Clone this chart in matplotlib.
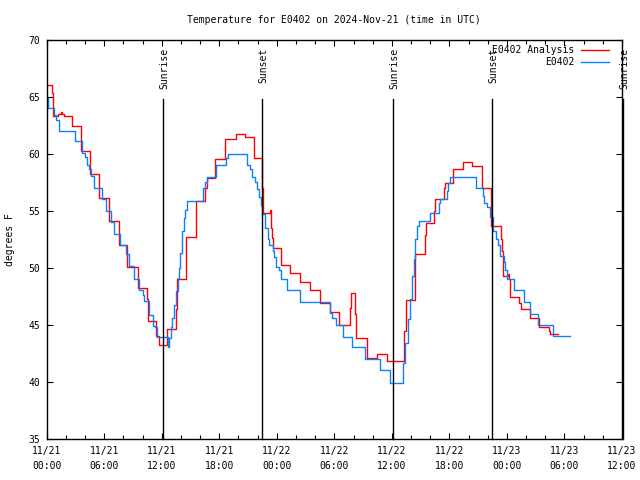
import matplotlib
matplotlib.use('Agg')
import matplotlib.pyplot as plt
from matplotlib.ticker import MultipleLocator
from matplotlib.transforms import blended_transform_factory
from matplotlib.lines import Line2D

# ---- data (hours since 2024-11-21 00:00 UTC, degrees F) ----
red_t = [0.0, 0.55, 0.62, 1.18, 1.45, 1.6, 1.76, 2.6, 3.55, 4.5, 5.5, 6.5, 7.5, 8.4, 9.5,
         10.45, 10.55, 11.35, 11.7, 12.55, 13.5, 13.6, 14.55, 15.6, 16.5, 16.7, 17.6, 18.6,
         19.7, 20.65, 21.6, 22.5, 22.6, 23.25, 23.4, 23.5, 23.65, 24.45, 25.35, 26.45, 27.5,
         28.45, 29.5, 30.45, 31.6, 31.75, 32.2, 32.3, 33.45, 34.45, 35.45, 37.3, 37.5, 38.4,
         39.45, 39.6, 40.35, 40.45, 41.45, 41.55, 42.4, 43.45, 44.35, 45.35, 46.35, 47.35,
         47.45, 47.55, 48.1, 48.2, 48.3, 49.3, 49.45, 50.4, 51.35, 52.4, 52.5, 53.3]
red_v = [66.0, 65.3, 63.35, 63.5, 63.67, 63.5, 63.35, 62.47, 60.2, 58.25, 56.15, 54.1, 52.0, 50.1, 48.27,
         47.3, 45.35, 44.04, 43.3, 44.7, 46.4, 49.0, 52.7, 55.9, 57.0, 57.84, 59.56, 61.25,
         61.74, 61.5, 59.65, 57.0, 54.83, 55.1, 53.5, 52.6, 51.77, 50.3, 49.6, 48.8, 48.04,
         46.9, 46.14, 45.06, 46.5, 47.83, 46.0, 43.84, 42.15, 42.5, 41.91, 44.5, 47.2, 51.2,
         52.9, 53.96, 54.98, 56.0, 57.0, 57.46, 58.68, 59.26, 58.9, 57.0, 53.67, 52.5,
         51.48, 49.3, 49.45, 49.0, 47.48, 46.96, 46.46, 45.64, 44.86, 44.5, 44.27, 44.27]

blue_t = [0.0, 0.1, 0.15, 0.75, 0.95, 1.3, 2.95, 3.65, 4.0, 4.15, 4.45, 4.6, 4.95, 5.75, 6.15,
          6.7, 7.05, 7.6, 8.3, 8.6, 9.1, 9.6, 10.0, 10.15, 10.7, 11.05, 11.3, 11.5, 12.6, 12.8,
          12.95, 13.05, 13.3, 13.45, 13.65, 13.8, 13.95, 14.1, 14.3, 14.45, 14.6, 16.25, 16.5,
          16.7, 17.7, 18.7, 18.95, 20.9, 21.15, 21.4, 21.7, 21.9, 22.1, 22.35, 22.5, 22.75,
          23.05, 23.2, 23.56, 23.74, 23.9, 24.25, 24.43, 25.1, 26.4, 29.55, 29.8, 30.15, 30.86,
          31.87, 33.15, 34.8, 35.85, 37.16, 37.4, 37.65, 37.86, 38.1, 38.27, 38.45, 38.6, 38.8,
          40.0, 40.87, 41.04, 41.73, 41.9, 42.08, 44.78, 45.47, 45.6, 45.9, 46.2, 46.58, 46.9,
          47.03, 47.23, 47.65, 47.8, 48.0, 48.7, 49.73, 50.42, 51.28, 52.77, 54.57]
blue_v = [64.9, 64.5, 64.0, 63.4, 63.0, 62.0, 61.1, 60.1, 59.7, 59.06, 58.7, 58.04, 57.0, 56.0, 54.98,
          54.0, 53.0, 52.0, 51.2, 50.2, 49.0, 48.1, 47.6, 47.1, 45.9, 44.9, 44.8, 44.0, 43.1, 43.9,
          44.8, 45.64, 46.8, 47.98, 49.15, 50.0, 51.33, 53.2, 54.4, 55.1, 55.9, 57.0, 57.5,
          57.95, 59.06, 59.65, 60.0, 59.06, 58.7, 57.95, 57.5, 56.9, 56.2, 55.56, 54.7, 53.5,
          52.5, 52.0, 51.5, 51.0, 50.1, 49.8, 49.0, 48.04, 47.02, 46.08, 45.6, 44.98, 44.0,
          43.1, 42.0, 41.04, 39.96, 41.7, 43.46, 45.5, 47.25, 49.3, 50.75, 52.5, 53.67, 54.1,
          54.83, 55.7, 56.0, 56.73, 57.46, 57.98, 57.0, 56.3, 55.7, 55.3, 54.5, 53.2, 52.5,
          52.0, 51.04, 50.5, 49.8, 49.0, 48.1, 47.0, 46.0, 44.98, 44.04, 44.04]

event_t = [12.16, 22.48, 36.16, 46.47, 60.1]
event_names = ["Sunrise", "Sunset", "Sunrise", "Sunset", "Sunrise"]

x_ticks = list(range(0, 61, 6))
x_labels = ["11/21\n00:00", "11/21\n06:00", "11/21\n12:00", "11/21\n18:00",
            "11/22\n00:00", "11/22\n06:00", "11/22\n12:00", "11/22\n18:00",
            "11/23\n00:00", "11/23\n06:00", "11/23\n12:00"]
y_ticks = list(range(35, 71, 5))

series_names = ["E0402 Analysis", "E0402"]
series_colors = ["#ff0000", "#0a80ff"]

# ---- figure ----
plt.rcParams['font.family'] = ['DejaVu Sans Mono']
plt.rcParams['font.size'] = 7

fig = plt.figure(figsize=(6.4, 4.8), dpi=100)
ax = fig.add_axes([0.073, 0.0844, 0.8989, 0.8333])

ax.plot(red_t, red_v, drawstyle='steps-post', color=series_colors[0], lw=1.0)
ax.plot(blue_t, blue_v, drawstyle='steps-post', color=series_colors[1], lw=1.0)

ax.set_xlim(0, 60)
ax.set_ylim(35, 70)
ax.set_xticks(x_ticks)
ax.set_xticklabels(x_labels, linespacing=1.6)
ax.xaxis.set_minor_locator(MultipleLocator(2))
ax.set_yticks(y_ticks)
ax.tick_params(which='both', direction='in', top=True, right=True, width=0.8, color='black')
ax.tick_params(which='major', length=4, pad=5)
ax.tick_params(which='minor', length=3)
for s in ax.spines.values():
    s.set_linewidth(1.0)
    s.set_color('black')

trans = blended_transform_factory(ax.transData, ax.transAxes)
for t, name in zip(event_t, event_names):
    ax.plot([t, t], [0, 0.851], transform=trans, color='black', lw=1.0, clip_on=False)
    ax.text(t + 0.1, 0.979, name, rotation=90, ha='center', va='top',
            transform=trans, clip_on=False)

# legend (gnuplot style: right-aligned text, sample on the right)
leg_y = [0.974, 0.943]
for name, col, yy in zip(series_names, series_colors, leg_y):
    ax.text(0.917, yy, name, ha='right', va='center', transform=ax.transAxes)
    ax.add_line(Line2D([0.9287, 0.978], [yy, yy], transform=ax.transAxes, color=col, lw=1.0))

fig.text(0.522, 1 - 20 / 480, "Temperature for E0402 on 2024-Nov-21 (time in UTC)",
         ha='center', va='center')
fig.text(0.016, 0.5, "degrees F", rotation=90, ha='center', va='center')

fig.savefig("out.png", dpi=100)
